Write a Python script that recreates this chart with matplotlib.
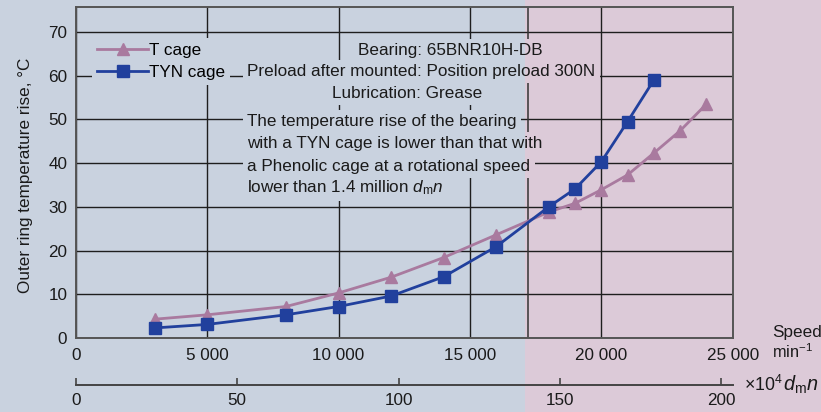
import matplotlib
matplotlib.use("Agg")
import matplotlib.pyplot as plt
from matplotlib.transforms import Bbox, TransformedBbox
from matplotlib.patches import Rectangle

plt.rcParams['font.family'] = ['Liberation Sans', 'DejaVu Sans']
plt.rcParams['mathtext.fontset'] = 'custom'
plt.rcParams['mathtext.rm'] = 'Liberation Sans'
plt.rcParams['mathtext.it'] = 'Liberation Sans:italic'
plt.rcParams['mathtext.bf'] = 'Liberation Sans:bold'

# ---------------- data ----------------
speed_T = [3000, 5000, 8000, 10000, 12000, 14000, 16000, 18000, 19000, 20000, 21000, 22000, 23000, 24000]
temp_T = [4.3, 5.3, 7.2, 10.3, 13.9, 18.4, 23.6, 28.8, 30.8, 33.9, 37.3, 42.3, 47.4, 53.5]
speed_TYN = [3000, 5000, 8000, 10000, 12000, 14000, 16000, 18000, 19000, 20000, 21000, 22000]
temp_TYN = [2.3, 3.1, 5.3, 7.2, 9.6, 14.0, 20.9, 30.0, 34.1, 40.3, 49.5, 59.0]
series_labels = ["T cage", "TYN cage"]

x_ticks = [0, 5000, 10000, 15000, 20000, 25000]
x_ticklabels = ["0", "5 000", "10 000", "15 000", "20 000", "25 000"]
y_ticks = [0, 10, 20, 30, 40, 50, 60, 70]
dmn_ticks = [0, 50, 100, 150, 200]
dm_mm = 81.4           # pitch diameter used for dmn scale (x10^4)
threshold_dmn = 140    # 1.4 million dmn

info_lines = ["Bearing: 65BNR10H-DB",
              "Preload after mounted: Position preload 300N",
              "Lubrication: Grease"]
note_lines = ["The temperature rise of the bearing",
              "with a TYN cage is lower than that with",
              "a Phenolic cage at a rotational speed",
              r"lower than 1.4 million $d_\mathrm{m}n$"]

# ---------------- styling ----------------
W, H = 821, 412
L, R, T, B = 75.7, 732.7, 7.0, 338.0
BLUE_BG = '#c9d2df'
PINK_BG = '#dccad8'
C_T = '#a97a9f'
C_TYN = '#21409d'
TXT = '#1a1a1a'
FS = 12.3

def fx(px):
    return px / W

def fy(py):
    return 1 - py / H

fig = plt.figure(figsize=(W / 100, H / 100), dpi=100, facecolor=BLUE_BG)
ax = fig.add_axes([fx(L), fy(B), (R - L) / W, (B - T) / H])
ax.patch.set_visible(False)
ax.set_xlim(0, 25000)
ax.set_ylim(0, 75.7)

def to_dmn(s):
    return s * dm_mm / 1e4

def from_dmn(d):
    return d * 1e4 / dm_mm

thr_speed = from_dmn(threshold_dmn)
thr_px = L + thr_speed / 25000 * (R - L)
pink_px = thr_px - 3.0

# pink background region
fig.patches.append(Rectangle((fx(pink_px), 0), 1 - fx(pink_px), 1,
                             transform=fig.transFigure, facecolor=PINK_BG,
                             edgecolor='none', zorder=-10))

# grid
ax.set_axisbelow(True)
ax.set_xticks(x_ticks)
ax.set_xticklabels(x_ticklabels)
ax.set_yticks(y_ticks)
ax.grid(True, color='#1e1e1e', lw=1.0)
ax.axvline(thr_speed, color='#333333', lw=1.1, zorder=0.6)

for s in ax.spines.values():
    s.set_color('#555555')
    s.set_linewidth(1.4)

ax.tick_params(axis='x', length=0, pad=7, labelsize=FS, colors=TXT)
ax.tick_params(axis='y', length=0, pad=6, labelsize=FS, colors=TXT)

# data
ax.plot(speed_T, temp_T, color=C_T, lw=2.0, marker='^', ms=9, label=series_labels[0], zorder=4)
ax.plot(speed_TYN, temp_TYN, color=C_TYN, lw=2.0, marker='s', ms=8, label=series_labels[1], zorder=5)

leg = ax.legend(loc='upper left', bbox_to_anchor=(fx(92), fy(38)), bbox_transform=fig.transFigure,
                borderaxespad=0, frameon=True, facecolor=BLUE_BG, edgecolor='none',
                fancybox=False, framealpha=1, borderpad=0.3, handlelength=3.0,
                handletextpad=0.05, labelspacing=0.4, fontsize=FS)
leg.get_frame().set_linewidth(0)

# secondary dmn axis
sec = ax.secondary_xaxis((B - 385.0) / (B - T), functions=(to_dmn, from_dmn))
sec.set_xticks(dmn_ticks)
sec.tick_params(direction='in', length=5, width=1.2, color='#444444', pad=6,
                labelsize=FS, labelcolor=TXT)
sec.spines['bottom'].set_color('#444444')
sec.spines['bottom'].set_linewidth(1.4)

# text boxes, with background matching local region
left_clip = TransformedBbox(Bbox([[0, 0], [fx(pink_px), 1]]), fig.transFigure)
right_clip = TransformedBbox(Bbox([[fx(pink_px), 0], [1, 1]]), fig.transFigure)

def boxed_text(xp, yp, s):
    for bg, clip in ((BLUE_BG, left_clip), (PINK_BG, right_clip)):
        t = ax.text(xp, yp, s, transform=fig.transFigure, ha='left', va='center',
                    fontsize=FS, color=TXT, zorder=3,
                    bbox=dict(boxstyle='square,pad=0.25', facecolor=bg, edgecolor='none'))
        t.set_clip_on(True)
        t.set_clip_box(clip)

info_x = [358.0, 247.3, 331.7]
info_y = [50.7, 71.7, 93.3]
for s, xp, yp in zip(info_lines, info_x, info_y):
    boxed_text(fx(xp), fy(yp), s)

note_y = [121.7, 143.3, 166.0, 187.3]
for s, yp in zip(note_lines, note_y):
    boxed_text(fx(247.3), fy(yp), s)

# axis labels
fig.text(fx(26), fy(175), "Outer ring temperature rise, °C", rotation=90,
         ha='center', va='center', fontsize=FS, color=TXT)
fig.text(fx(771.7), fy(333), "Speed", ha='left', va='center', fontsize=FS, color=TXT)
fig.text(fx(771.7), fy(352), r"min$^{-1}$", ha='left', va='center', fontsize=FS - 0.5, color=TXT)
fig.text(fx(744), fy(385), r"$\times$10$^{4}$", ha='left', va='center', fontsize=FS + 0.5, color=TXT)
fig.text(fx(783), fy(385), r"$d_\mathrm{m}n$", ha='left', va='center', fontsize=FS + 2, color=TXT)

fig.savefig("out.png", dpi=100, facecolor=fig.get_facecolor())
